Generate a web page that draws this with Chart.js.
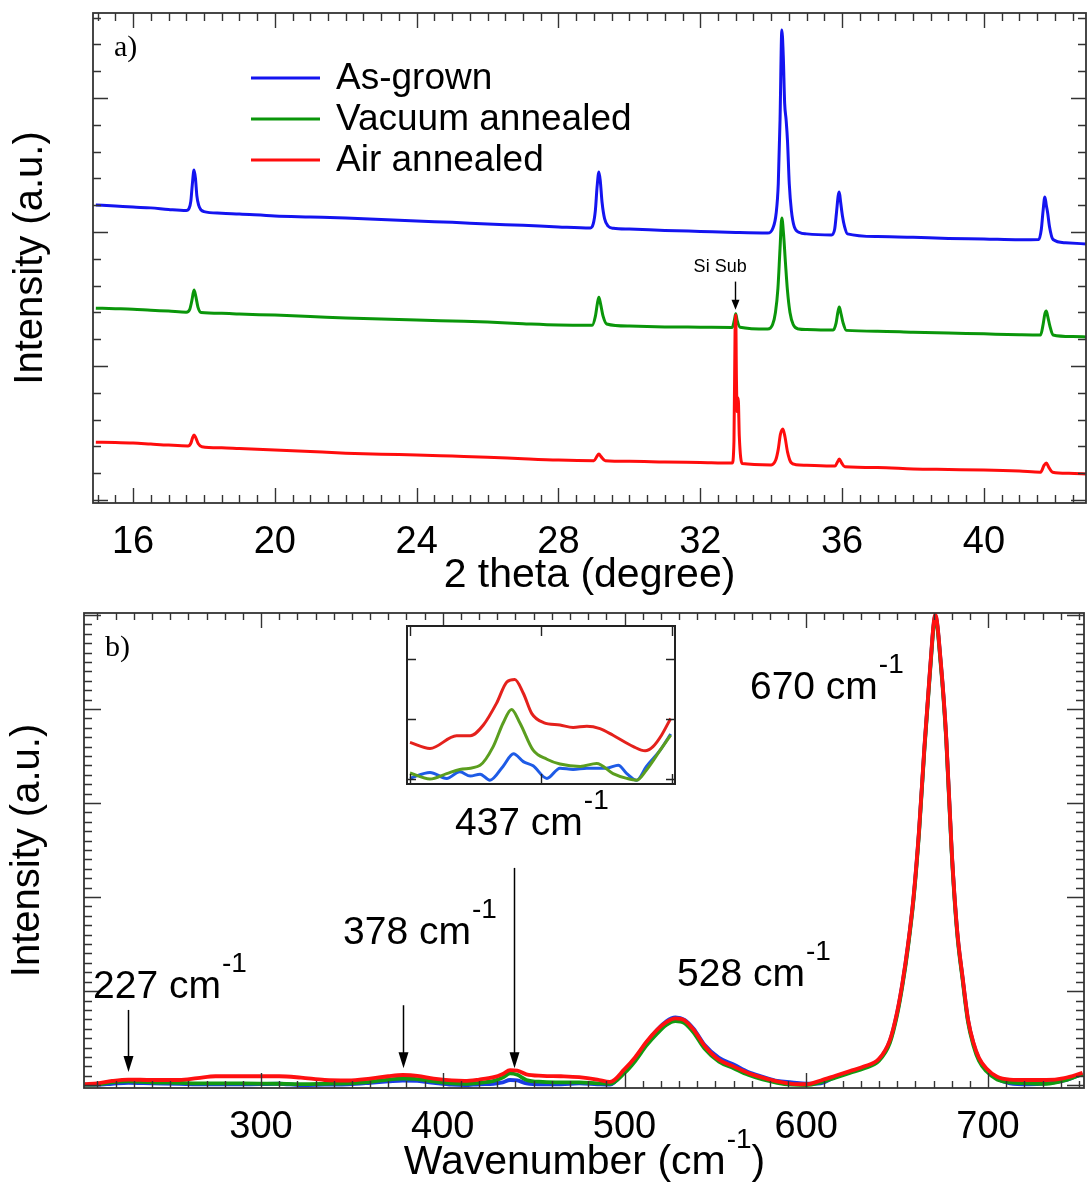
<!DOCTYPE html>
<html>
<head>
<meta charset="utf-8">
<title>XRD and Raman spectra</title>
<script src="https://cdn.jsdelivr.net/npm/chart.js@4/dist/chart.umd.min.js"></script>
<style>
  html, body { margin: 0; padding: 0; background: #fff; }
  #page { position: relative; width: 1088px; height: 1188px; overflow: hidden; background: #fff; }
  canvas { position: absolute; display: block; }
  #xrd { left: 0; top: 0; }
  #raman { left: 0; top: 600px; }
  #inset { left: 406px; top: 625px; }
</style>
</head>
<body>
<div id="page">
  <canvas id="xrd" width="1088" height="600"></canvas>
  <canvas id="raman" width="1088" height="588"></canvas>
  <canvas id="inset" width="270" height="160"></canvas>
</div>
<script>
// ---------- (a) XRD patterns: [2theta (deg), intensity (a.u., offset)] ----------
const xrdSeriesNames = ['As-grown', 'Vacuum annealed', 'Air annealed'];
const xrdTickLabels = [16, 20, 24, 28, 32, 36, 40];

const xrdAsGrown = [
  [14.95, 11.01], [15.5, 10.97], [16.0, 10.93], [16.5, 10.90], [17.0, 10.84], [17.5, 10.80],
  [17.58, 10.88], [17.63, 11.15], [17.67, 11.75], [17.72, 12.31], [17.76, 12.0], [17.8, 11.35],
  [17.85, 11.0], [17.92, 10.82], [18.0, 10.76], [18.5, 10.70], [19.0, 10.67], [20.0, 10.60],
  [21.0, 10.56], [22.0, 10.52], [23.0, 10.47], [24.0, 10.41], [25.0, 10.36], [26.0, 10.30],
  [27.0, 10.25], [28.0, 10.19], [28.9, 10.15], [28.98, 10.3], [29.04, 10.8], [29.09, 11.7],
  [29.14, 12.24], [29.18, 11.9], [29.23, 11.1], [29.3, 10.5], [29.4, 10.22], [29.55, 10.14],
  [30.0, 10.11], [31.0, 10.06], [32.0, 10.02], [33.0, 9.98], [33.9, 9.96], [34.05, 10.15],
  [34.14, 10.7], [34.2, 11.8], [34.25, 14.2], [34.30, 17.54], [34.34, 16.6], [34.38, 14.8],
  [34.42, 14.2], [34.46, 13.4], [34.51, 11.8], [34.57, 10.8], [34.65, 10.2], [34.8, 9.98],
  [35.0, 9.93], [35.7, 9.89], [35.79, 10.1], [35.84, 10.7], [35.89, 11.35], [35.92, 11.49],
  [35.96, 11.1], [36.01, 10.6], [36.07, 10.2], [36.15, 9.93], [37.0, 9.83], [38.0, 9.80],
  [39.0, 9.76], [40.0, 9.74], [41.0, 9.71], [41.55, 9.72], [41.62, 10.1], [41.67, 10.8],
  [41.72, 11.31], [41.76, 11.0], [41.8, 10.7], [41.85, 10.2], [41.95, 9.72], [42.3, 9.60],
  [42.95, 9.55]
];

const xrdVacuum = [
  [14.95, 7.16], [15.5, 7.14], [16.0, 7.12], [16.5, 7.08], [17.0, 7.05], [17.5, 7.01],
  [17.6, 7.12], [17.66, 7.45], [17.72, 7.84], [17.77, 7.6], [17.83, 7.2], [17.92, 7.0],
  [18.5, 6.97], [19.0, 6.94], [20.0, 6.90], [21.0, 6.85], [22.0, 6.79], [23.0, 6.75],
  [24.0, 6.72], [25.0, 6.68], [26.0, 6.64], [27.0, 6.58], [28.0, 6.53], [28.95, 6.52],
  [29.04, 6.85], [29.1, 7.35], [29.14, 7.57], [29.19, 7.3], [29.26, 6.85], [29.36, 6.57],
  [30.0, 6.49], [31.0, 6.46], [32.0, 6.45], [32.9, 6.44], [32.96, 6.7], [33.0, 6.95],
  [33.04, 6.7], [33.12, 6.45], [33.9, 6.38], [34.04, 6.55], [34.12, 7.0], [34.19, 7.9],
  [34.25, 9.4], [34.30, 10.52], [34.35, 9.9], [34.4, 8.9], [34.46, 7.8], [34.53, 7.0],
  [34.62, 6.55], [34.78, 6.38], [35.0, 6.36], [35.75, 6.34], [35.83, 6.6], [35.88, 7.0],
  [35.92, 7.20], [35.97, 6.95], [36.03, 6.6], [36.12, 6.33], [37.0, 6.30], [38.0, 6.26],
  [39.0, 6.23], [40.0, 6.20], [41.0, 6.17], [41.6, 6.16], [41.67, 6.55], [41.72, 6.95],
  [41.76, 7.05], [41.8, 6.85], [41.86, 6.5], [41.95, 6.16], [42.5, 6.10], [42.95, 6.08]
];

const xrdAir = [
  [14.95, 2.16], [15.5, 2.15], [16.0, 2.13], [16.5, 2.09], [17.0, 2.05], [17.55, 2.02],
  [17.63, 2.12], [17.68, 2.33], [17.72, 2.43], [17.77, 2.32], [17.84, 2.1], [17.94, 1.99],
  [18.5, 1.95], [19.0, 1.92], [20.0, 1.87], [21.0, 1.81], [22.0, 1.75], [23.0, 1.71],
  [24.0, 1.68], [25.0, 1.64], [26.0, 1.60], [27.0, 1.54], [28.0, 1.49], [29.0, 1.47],
  [29.08, 1.62], [29.14, 1.72], [29.2, 1.62], [29.32, 1.47], [30.0, 1.45], [31.0, 1.42],
  [32.0, 1.40], [32.9, 1.38], [32.95, 2.2], [32.98, 6.2], [33.0, 6.90], [33.02, 4.5],
  [33.04, 3.3], [33.07, 3.81], [33.1, 2.4], [33.18, 1.36], [34.0, 1.31], [34.13, 1.5],
  [34.2, 1.9], [34.26, 2.45], [34.33, 2.65], [34.39, 2.35], [34.46, 1.8], [34.56, 1.4],
  [34.7, 1.32], [35.0, 1.30], [35.8, 1.27], [35.87, 1.42], [35.92, 1.53], [35.98, 1.4],
  [36.08, 1.24], [37.0, 1.21], [38.0, 1.16], [39.0, 1.14], [40.0, 1.12], [41.0, 1.08],
  [41.6, 1.04], [41.7, 1.3], [41.76, 1.38], [41.83, 1.22], [41.94, 1.04], [42.4, 1.0],
  [42.95, 0.97]
];

// ---------- (b) Raman spectra ----------
const ramanTickLabels = [300, 400, 500, 600, 700];
const ramanShift = [
  203, 210, 218, 227, 240, 255, 265, 275, 290, 310, 322, 335, 348, 360, 370,
  378, 386, 395, 405, 412, 420, 428, 433, 437, 441, 446, 455, 465, 475, 485,
  492, 500, 506, 512, 518, 523, 528, 533, 538, 544, 552, 560, 568, 576, 584,
  592, 600, 608, 616, 624, 632, 640, 646, 650, 653, 656, 659, 662, 665, 668,
  671, 674, 677, 680, 683, 686, 689, 692, 695, 699, 705, 712, 722, 732, 742, 752
];
const ramanAir = [
  0.1, 0.2, 0.45, 0.6, 0.55, 0.55, 0.75, 0.95, 0.95, 0.95, 0.8, 0.55, 0.5, 0.7, 0.95,
  1.08, 1.0, 0.7, 0.5, 0.45, 0.6, 0.85, 1.2, 1.6, 1.55, 1.15, 1.0, 0.95, 0.85, 0.6,
  0.35, 1.7, 3.0, 4.6, 5.9, 6.7, 7.1, 6.9, 5.9, 4.2, 2.7, 2.0, 1.3, 0.8, 0.4,
  0.15, 0.1, 0.5, 1.0, 1.5, 2.0, 2.8, 4.8, 7.8, 11.0, 15, 20, 27, 36, 44,
  50, 45, 37, 25, 16.5, 11.5, 7.0, 4.5, 2.9, 1.8, 0.9, 0.6, 0.55, 0.55, 0.75, 1.3
];
const ramanVacuum = [
  0.05, 0.1, 0.3, 0.4, 0.3, 0.25, 0.2, 0.2, 0.2, 0.15, 0.12, 0.15, 0.2, 0.35, 0.6,
  0.7, 0.65, 0.4, 0.2, 0.15, 0.25, 0.45, 0.8, 1.25, 1.1, 0.55, 0.35, 0.3, 0.3, 0.2,
  0.15, 1.3, 2.6, 4.2, 5.5, 6.4, 6.8, 6.6, 5.6, 3.9, 2.5, 1.8, 1.1, 0.6, 0.25,
  0.05, 0.0, 0.3, 0.8, 1.3, 1.8, 2.6, 4.5, 7.5, 10.7, 14.7, 19.7, 26.7, 35.7, 43.7,
  49.7, 44.7, 36.7, 24.7, 16.2, 11.2, 6.7, 4.2, 2.6, 1.5, 0.6, 0.3, 0.2, 0.15, 0.5, 1.2
];
const ramanAsGrown = [
  0.05, 0.05, 0.15, 0.25, 0.2, 0.15, 0.1, 0.1, 0.1, 0.15, 0.0, 0.05, 0.1, 0.25, 0.4,
  0.5, 0.45, 0.25, 0.05, 0.0, 0.1, 0.15, 0.3, 0.55, 0.5, 0.2, 0.1, 0.1, 0.2, 0.1,
  0.05, 1.5, 2.9, 4.5, 5.9, 6.8, 7.2, 6.95, 6.0, 4.3, 2.9, 2.2, 1.4, 0.9, 0.45,
  0.3, 0.15, 0.2, 0.9, 1.4, 1.9, 2.7, 4.7, 7.7, 10.9, 14.9, 19.9, 26.9, 35.9, 43.9,
  49.9, 44.9, 36.9, 24.9, 16.4, 11.4, 6.9, 4.4, 2.8, 1.7, 0.7, 0.2, 0.1, 0.2, 0.5, 1.2
];

// Peak annotations
const ramanPeakLabels = ['670', '528', '437', '378', '227'];

// ---------- Inset: close-up of the 437 cm-1 band ----------
const insetAir = [
  [420.0, 0.61], [423.05, 0.51], [427.1, 0.72], [429.2, 0.72], [431.2, 0.90], [433.2, 1.26],
  [434.8, 1.62], [436.0, 1.66], [437.3, 1.43], [438.6, 1.09], [440.4, 0.94], [442.9, 0.90],
  [444.9, 0.86], [447.0, 0.88], [449.0, 0.84], [451.0, 0.73], [454.1, 0.54], [455.9, 0.47],
  [457.1, 0.54], [458.4, 0.73], [459.8, 1.01]
];
const insetVacuum = [
  [420.0, 0.10], [423.05, 0.00], [425.6, 0.09], [427.6, 0.16], [430.7, 0.23], [432.7, 0.54],
  [434.2, 0.93], [435.5, 1.16], [436.8, 0.93], [438.8, 0.48], [440.9, 0.33], [442.9, 0.25],
  [446.0, 0.21], [448.5, 0.26], [451.0, 0.09], [453.1, 0.01], [454.6, -0.02], [456.1, 0.15],
  [458.2, 0.48], [459.8, 0.73]
];
const insetAsGrown = [
  [420.0, 0.01], [423.05, 0.11], [425.6, 0.01], [427.6, 0.12], [429.2, 0.05], [430.7, 0.08],
  [432.2, -0.02], [434.2, 0.21], [435.8, 0.42], [437.3, 0.29], [438.8, 0.22], [440.9, 0.01],
  [442.9, 0.18], [444.9, 0.16], [447.0, 0.18], [450.0, 0.18], [451.8, 0.23], [453.1, 0.09],
  [454.6, -0.02], [456.1, 0.21], [458.2, 0.48], [459.8, 0.75]
];

// ---------- shared drawing helpers ----------
const SANS = "'Liberation Sans', Arial, Helvetica, sans-serif";
const SERIF = "'Liberation Serif', 'Times New Roman', serif";
Chart.defaults.font.family = SANS;
Chart.defaults.color = '#000';
Chart.defaults.animation = false;

const toXY = pts => pts.map(p => ({ x: p[0], y: p[1] }));
const zipXY = (xs, ys) => xs.map((x, i) => ({ x, y: ys[i] }));
const isMultiple = (v, s) => Math.abs(v / s - Math.round(v / s)) < 1e-6;

// Closed frame with inward tick marks on all four sides, taken from the chart's scales
const frameTicks = {
  id: 'frameTicks',
  afterDatasetsDraw(chart, args, o) {
    const { ctx, chartArea: a } = chart;
    const xs = chart.scales.x, ys = chart.scales.y;
    ctx.save();
    ctx.strokeStyle = o.color;
    ctx.lineWidth = o.tickWidth;
    ctx.beginPath();
    xs.ticks.forEach(t => {
      if (!isMultiple(t.value, o.xMinor)) return;
      const px = Math.round(xs.getPixelForValue(t.value)) + 0.5;
      const len = isMultiple(t.value, o.xMajor) ? o.xMajorLen : o.xMinorLen;
      ctx.moveTo(px, a.bottom); ctx.lineTo(px, a.bottom - len);
      ctx.moveTo(px, a.top); ctx.lineTo(px, a.top + len);
    });
    ys.ticks.forEach(t => {
      if (!isMultiple(t.value, o.yMinor)) return;
      const py = Math.round(ys.getPixelForValue(t.value)) + 0.5;
      const len = isMultiple(t.value, o.yMajor) ? o.yMajorLen : o.yMinorLen;
      ctx.moveTo(a.left, py); ctx.lineTo(a.left + len, py);
      ctx.moveTo(a.right, py); ctx.lineTo(a.right - len, py);
    });
    ctx.stroke();
    ctx.lineWidth = o.frameWidth;
    ctx.strokeRect(a.left, a.top, a.right - a.left, a.bottom - a.top);
    ctx.restore();
  }
};

// Text labels (with optional superscript) and arrows placed in data coordinates
const notes = {
  id: 'notes',
  afterDraw(chart, args, o) {
    const { ctx } = chart;
    const xs = chart.scales.x, ys = chart.scales.y;
    ctx.save();
    ctx.fillStyle = '#000';
    ctx.strokeStyle = '#000';
    (o.arrows || []).forEach(ar => {
      const x = Math.round(xs.getPixelForValue(ar.x)) + 0.5;
      const y0 = ys.getPixelForValue(ar.from), y1 = ys.getPixelForValue(ar.to);
      ctx.lineWidth = ar.width;
      ctx.beginPath(); ctx.moveTo(x, y0); ctx.lineTo(x, y1 - ar.head + 1); ctx.stroke();
      ctx.beginPath();
      ctx.moveTo(x - ar.half, y1 - ar.head); ctx.lineTo(x + ar.half, y1 - ar.head); ctx.lineTo(x, y1);
      ctx.closePath(); ctx.fill();
    });
    (o.labels || []).forEach(l => {
      const x = xs.getPixelForValue(l.x), y = ys.getPixelForValue(l.y);
      ctx.font = l.size + 'px ' + SANS;
      ctx.textBaseline = 'middle';
      ctx.textAlign = l.align || 'left';
      ctx.fillText(l.text, x, y);
      if (l.sup) {
        const w = ctx.measureText(l.text).width;
        ctx.font = l.supSize + 'px ' + SANS;
        ctx.textAlign = 'left';
        ctx.fillText(l.sup, x + w + 1, y - l.rise);
      }
    });
    ctx.restore();
  }
};

// ---------- (a) XRD chart ----------
const xrdColors = ['#1414f0', '#0a960a', '#ff0d0d'];
new Chart(document.getElementById('xrd'), {
  type: 'line',
  data: {
    datasets: [xrdAsGrown, xrdVacuum, xrdAir].map((pts, i) => ({
      label: xrdSeriesNames[i],
      data: toXY(pts),
      borderColor: xrdColors[i],
      borderWidth: 3,
      pointRadius: 0,
      cubicInterpolationMode: 'monotone',
      order: 3 - i
    }))
  },
  options: {
    responsive: false,
    events: [],
    layout: { padding: { left: 0, right: 2, top: 13, bottom: 0 } },
    plugins: {
      legend: { display: false },
      tooltip: { enabled: false },
      frameTicks: {
        color: '#333', tickWidth: 1.4, frameWidth: 1.8,
        xMinor: 0.5, xMajor: 4, xMinorLen: 8, xMajorLen: 15,
        yMinor: 1, yMajor: 5, yMinorLen: 8, yMajorLen: 15
      },
      notes: {
        labels: [{ x: 32.56, y: 8.69, text: 'Si Sub', size: 18, align: 'center' }],
        arrows: [{ x: 32.98, from: 8.15, to: 7.1, head: 10, half: 4, width: 1.4 }]
      }
    },
    scales: {
      x: {
        type: 'linear', min: 14.87, max: 42.88,
        grid: { display: false }, border: { display: false },
        ticks: {
          stepSize: 0.5, includeBounds: false, autoSkip: false, maxRotation: 0, minRotation: 0,
          padding: 9, font: { size: 38 },
          callback: v => (xrdTickLabels.includes(v) ? String(v) : '')
        },
        title: { display: true, text: '2 theta (degree)', font: { size: 41 }, padding: { top: 0, bottom: 0 } },
        afterFit: s => { s.height = 97; }
      },
      y: {
        type: 'linear', min: -0.11, max: 18.17,
        grid: { display: false }, border: { display: false },
        ticks: { stepSize: 1, includeBounds: false, display: false },
        title: { display: true, text: 'Intensity (a.u.)', font: { size: 40 }, padding: { top: 7, bottom: 0 } },
        afterFit: s => { s.width = 93; }
      }
    }
  },
  plugins: [frameTicks, notes, {
    id: 'xrdLegend',
    afterDraw(chart) {
      const { ctx, chartArea: a } = chart;
      ctx.save();
      // panel tag
      ctx.font = '30px ' + SERIF;
      ctx.fillStyle = '#000';
      ctx.textBaseline = 'middle';
      ctx.textAlign = 'left';
      ctx.fillText('a)', a.left + 21, a.top + 35);
      // legend entries
      chart.data.datasets.forEach((ds, i) => {
        const y = a.top + 65 + i * 41;
        ctx.strokeStyle = ds.borderColor;
        ctx.lineWidth = 3;
        ctx.beginPath();
        ctx.moveTo(a.left + 158, y); ctx.lineTo(a.left + 227, y);
        ctx.stroke();
        ctx.font = '37px ' + SANS;
        ctx.fillStyle = '#000';
        ctx.fillText(ds.label, a.left + 243, y + 1);
      });
      ctx.restore();
    }
  }]
});

// ---------- (b) Raman chart ----------
const ramanColors = { asGrown: '#1a3ce6', vacuum: '#129a12', air: '#ff1010' };
new Chart(document.getElementById('raman'), {
  type: 'line',
  data: {
    datasets: [
      { label: 'Air annealed', data: zipXY(ramanShift, ramanAir), borderColor: ramanColors.air, order: 1 },
      { label: 'Vacuum annealed', data: zipXY(ramanShift, ramanVacuum), borderColor: ramanColors.vacuum, order: 2 },
      { label: 'As-grown', data: zipXY(ramanShift, ramanAsGrown), borderColor: ramanColors.asGrown, order: 3 }
    ].map(ds => Object.assign(ds, { borderWidth: 3.8, pointRadius: 0, cubicInterpolationMode: 'monotone' }))
  },
  options: {
    responsive: false,
    events: [],
    layout: { padding: { left: 0, right: 4, top: 13, bottom: 0 } },
    plugins: {
      legend: { display: false },
      tooltip: { enabled: false },
      frameTicks: {
        color: '#333', tickWidth: 1.4, frameWidth: 1.8,
        xMinor: 10, xMajor: 100, xMinorLen: 7, xMajorLen: 15,
        yMinor: 1, yMajor: 10, yMinorLen: 8, yMajorLen: 17
      },
      notes: {
        labels: [
          { x: 569.0, y: 42.2, text: ramanPeakLabels[0] + ' cm', sup: '-1', size: 39, supSize: 28, rise: 23 },
          { x: 528.9, y: 11.7, text: ramanPeakLabels[1] + ' cm', sup: '-1', size: 39, supSize: 28, rise: 23 },
          { x: 406.7, y: 27.7, text: ramanPeakLabels[2] + ' cm', sup: '-1', size: 39, supSize: 28, rise: 23 },
          { x: 345.1, y: 16.2, text: ramanPeakLabels[3] + ' cm', sup: '-1', size: 39, supSize: 28, rise: 23 },
          { x: 207.6, y: 10.4, text: ramanPeakLabels[4] + ' cm', sup: '-1', size: 39, supSize: 28, rise: 23 }
        ],
        arrows: [
          { x: 439.2, from: 23.1, to: 1.8, head: 16, half: 5, width: 1.5 },
          { x: 378.1, from: 8.5, to: 1.8, head: 16, half: 5, width: 1.5 },
          { x: 226.8, from: 8.0, to: 1.4, head: 16, half: 5, width: 1.5 }
        ]
      }
    },
    scales: {
      x: {
        type: 'linear', min: 202.6, max: 752.8,
        grid: { display: false }, border: { display: false },
        ticks: {
          stepSize: 10, includeBounds: false, autoSkip: false, maxRotation: 0, minRotation: 0,
          padding: 9, font: { size: 38 },
          callback: v => (ramanTickLabels.includes(v) ? String(v) : '')
        },
        title: { display: false },
        afterFit: s => { s.height = 100; }
      },
      y: {
        type: 'linear', min: -0.3, max: 50.2,
        grid: { display: false }, border: { display: false },
        ticks: { stepSize: 1, includeBounds: false, display: false },
        title: { display: true, text: 'Intensity (a.u.)', font: { size: 40 }, padding: { top: 4, bottom: 0 } },
        afterFit: s => { s.width = 84; }
      }
    }
  },
  plugins: [frameTicks, notes, {
    id: 'ramanText',
    afterDraw(chart) {
      const { ctx, chartArea: a } = chart;
      ctx.save();
      ctx.fillStyle = '#000';
      ctx.textBaseline = 'middle';
      ctx.textAlign = 'left';
      ctx.font = '30px ' + SERIF;
      ctx.fillText('b)', a.left + 21, a.top + 35);
      // x-axis title with superscript unit
      const main = 'Wavenumber (cm', sup = '-1', close = ')';
      ctx.font = '41px ' + SANS;
      const w1 = ctx.measureText(main).width, w3 = ctx.measureText(close).width;
      ctx.font = '28px ' + SANS;
      const w2 = ctx.measureText(sup).width;
      const x = (a.left + a.right) / 2 - (w1 + w2 + w3) / 2;
      const y = 563;
      ctx.font = '41px ' + SANS;
      ctx.fillText(main, x, y);
      ctx.font = '28px ' + SANS;
      ctx.fillText(sup, x + w1 + 1, y - 23);
      ctx.font = '41px ' + SANS;
      ctx.fillText(close, x + w1 + w2 + 1, y);
      ctx.restore();
    }
  }]
});

// ---------- inset ----------
new Chart(document.getElementById('inset'), {
  type: 'line',
  data: {
    datasets: [
      { label: 'Air annealed', data: toXY(insetAir), borderColor: '#e4211c', order: 1 },
      { label: 'Vacuum annealed', data: toXY(insetVacuum), borderColor: '#5b9e1f', order: 2 },
      { label: 'As-grown', data: toXY(insetAsGrown), borderColor: '#1e5be6', order: 3 }
    ].map(ds => Object.assign(ds, { borderWidth: 3, pointRadius: 0, cubicInterpolationMode: 'monotone' }))
  },
  options: {
    responsive: false,
    events: [],
    layout: { padding: 1 },
    plugins: {
      legend: { display: false },
      tooltip: { enabled: false },
      frameTicks: {
        color: '#222', tickWidth: 1.4, frameWidth: 2,
        xMinor: 20, xMajor: 20, xMinorLen: 10, xMajorLen: 10,
        yMinor: 1, yMajor: 1, yMinorLen: 9, yMajorLen: 9
      }
    },
    scales: {
      x: {
        type: 'linear', min: 419.54, max: 460.46,
        grid: { display: false }, border: { display: false },
        ticks: { stepSize: 20, includeBounds: false, display: false },
        afterFit: s => { s.height = 0; }
      },
      y: {
        type: 'linear', min: -0.083, max: 2.55,
        grid: { display: false }, border: { display: false },
        ticks: { stepSize: 1, includeBounds: false, display: false },
        afterFit: s => { s.width = 0; }
      }
    }
  },
  plugins: [{
    id: 'insetBackground',
    beforeDraw(chart) {
      const { ctx, width, height } = chart;
      ctx.save();
      ctx.fillStyle = '#fff';
      ctx.fillRect(0, 0, width, height);
      ctx.restore();
    }
  }, frameTicks]
});
</script>
</body>
</html>
